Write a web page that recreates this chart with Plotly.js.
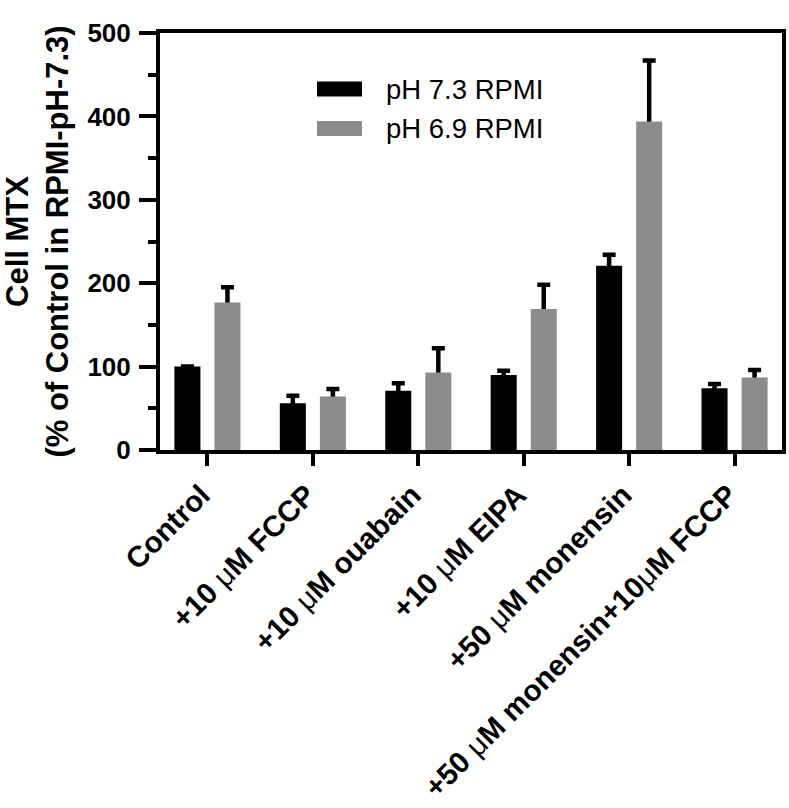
<!DOCTYPE html>
<html>
<head>
<meta charset="utf-8">
<script src="https://cdn.plot.ly/plotly-3.0.1.min.js"></script>
<style>html,body{margin:0;padding:0;background:#fff;}#chart{width:789px;height:808px;}</style>
</head>
<body>
<div id="chart"></div>
<script>
const mu = '<span style="font-weight:normal">μ</span>';
const categories = ['Control', '+10 ' + mu + 'M FCCP', '+10 ' + mu + 'M ouabain', '+10 ' + mu + 'M EIPA', '+50 ' + mu + 'M monensin', '+50 ' + mu + 'M monensin+10' + mu + 'M FCCP'];
const seriesNames = ['pH 7.3 RPMI', 'pH 6.9 RPMI'];
const ph73 = [100, 56, 71, 90, 221, 74];
const ph73Err = [0, 9, 9, 5, 13, 5];
const ph69 = [177, 64, 93, 169, 394, 87];
const ph69Err = [18, 9, 29, 29, 73, 9];
const yTicks = [0, 100, 200, 300, 400, 500];

const FONT = 'Arial, "Liberation Sans", sans-serif';
const colors = ['#000000', '#8c8c8c'];
const BAR_W = 0.247;
const offsets = [-0.19 - BAR_W / 2, 0.19 - BAR_W / 2];

// error bars drawn first (by transparent bars), then the visible bars cover the lower stub
function errTrace(y, err, off) {
  const up = err.map(e => e > 0 ? e : null);
  const dn = err.map(e => e > 0 ? 6 : null);
  return {
    type: 'bar', x: categories, y: y, offset: off, width: BAR_W,
    marker: {color: 'rgba(0,0,0,0)', line: {width: 0}},
    error_y: {type: 'data', array: up, arrayminus: dn, symmetric: false,
              color: '#000', thickness: 4.5, width: 6.5, visible: true},
    showlegend: false, hoverinfo: 'skip'
  };
}
function barTrace(name, y, off, color) {
  return {
    type: 'bar', name: name, x: categories, y: y, offset: off, width: BAR_W,
    marker: {color: color, line: {width: 0}},
    showlegend: false, hoverinfo: 'skip'
  };
}
const data = [
  errTrace(ph73, ph73Err, offsets[0]),
  errTrace(ph69, ph69Err, offsets[1]),
  barTrace(seriesNames[0], ph73, offsets[0], colors[0]),
  barTrace(seriesNames[1], ph69, offsets[1], colors[1])
];

const shapes = [], annotations = [];
seriesNames.forEach((n, i) => {
  const yc = 89 + i * 39.5;
  shapes.push({type: 'rect', xref: 'paper', yref: 'paper',
    x0: (317 - 160) / 622, x1: (362 - 160) / 622,
    y0: (450 - yc - 7.5) / 417, y1: (450 - yc + 7.5) / 417,
    fillcolor: colors[i], line: {width: 0}});
  annotations.push({xref: 'paper', yref: 'paper', x: (384 - 160) / 622, y: (450 - yc) / 417,
    xanchor: 'left', yanchor: 'middle', text: n, showarrow: false,
    font: {family: FONT, size: 27.5, color: '#000'}});
});

const layout = {
  width: 789, height: 808,
  margin: {l: 160, r: 7, t: 33, b: 358},
  paper_bgcolor: '#fff', plot_bgcolor: '#fff',
  barmode: 'overlay',
  font: {family: FONT, color: '#000'},
  xaxis: {
    type: 'category', range: [-0.45, 5.45],
    showline: true, linewidth: 4, linecolor: '#000', mirror: true,
    ticks: 'outside', ticklen: 12, tickwidth: 4, tickcolor: '#000',
    tickangle: -45, tickfont: {family: FONT, size: 29.5, color: '#000', weight: 'bold'},
    ticklabelshift: -6,
    showgrid: false, zeroline: false, fixedrange: true
  },
  yaxis: {
    range: [0, 500], tickvals: yTicks, ticktext: yTicks.map(String),
    showline: true, linewidth: 4, linecolor: '#000', mirror: true,
    ticks: 'outside', ticklen: 17, tickwidth: 4, tickcolor: '#000',
    minor: {dtick: 50, tick0: 0, ticks: 'outside', ticklen: 8, tickwidth: 4, tickcolor: '#000', showgrid: false},
    tickfont: {family: FONT, size: 26, color: '#000', weight: 'bold'},
    ticklabelstandoff: 3,
    title: {text: 'Cell MTX<br>(% of Control in RPMI-pH-7.3)', standoff: 18,
            font: {family: FONT, size: 31, color: '#000', weight: 'bold'}},
    showgrid: false, zeroline: false, fixedrange: true
  },
  shapes: shapes, annotations: annotations
};

Plotly.newPlot('chart', data, layout, {displayModeBar: false, staticPlot: true});
</script>
</body>
</html>
